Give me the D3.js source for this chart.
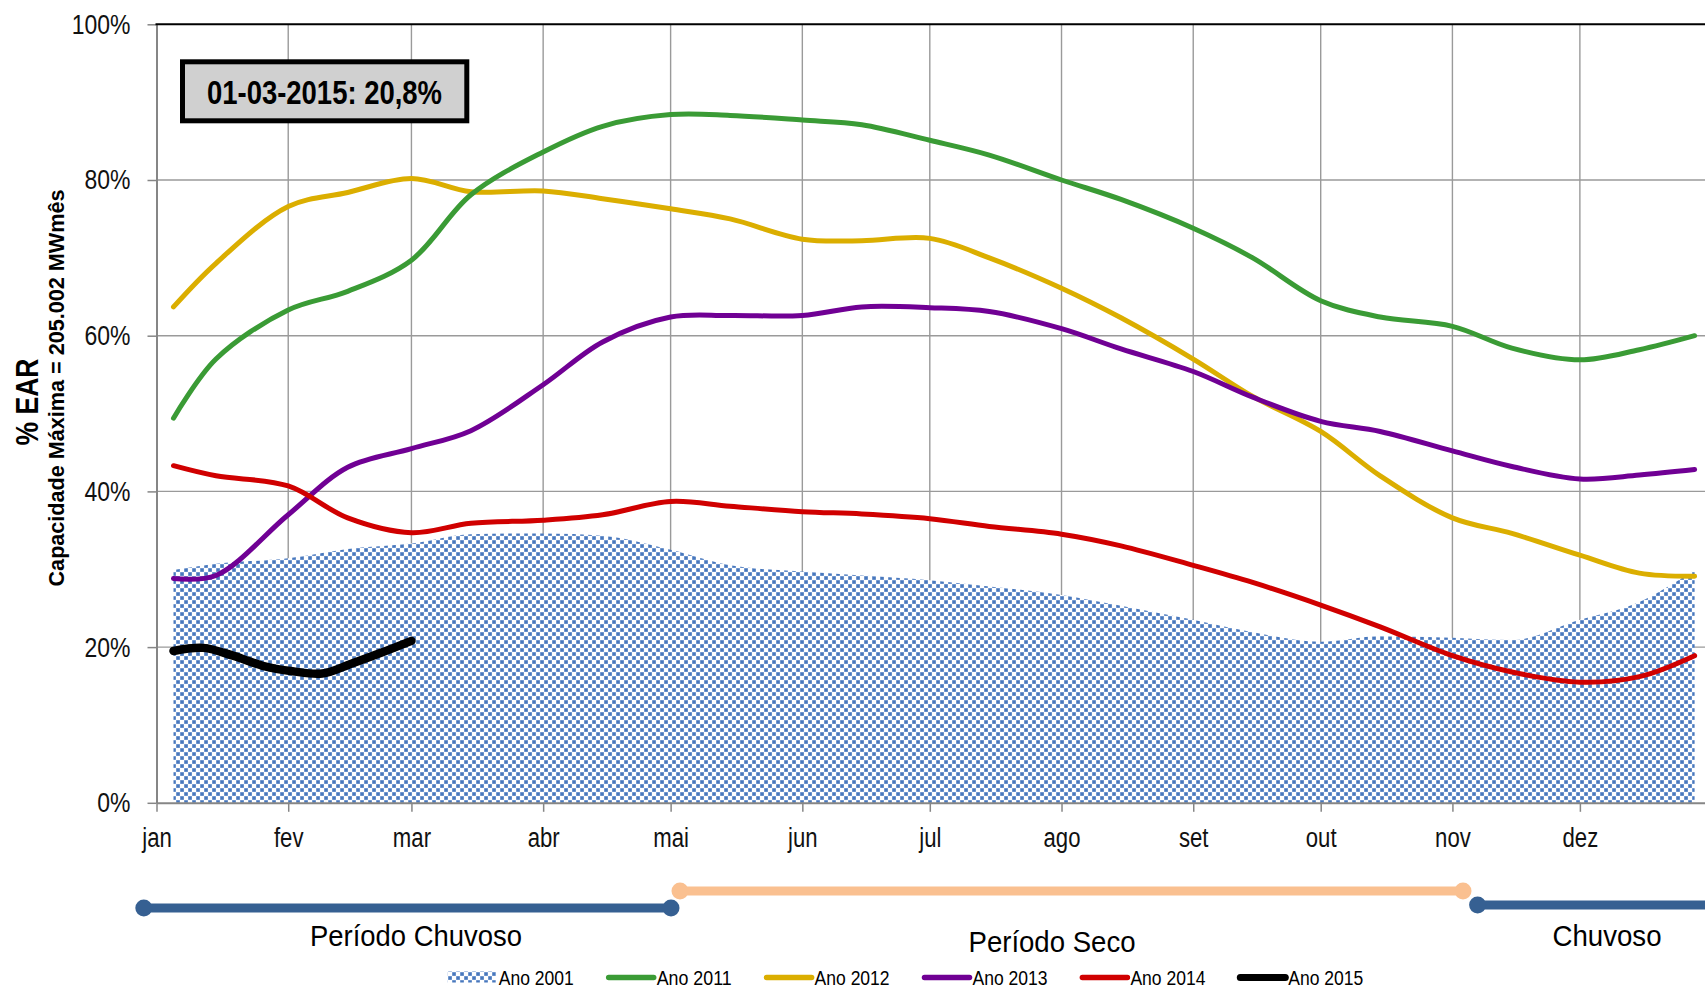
<!DOCTYPE html>
<html><head><meta charset="utf-8">
<script src="https://cdn.jsdelivr.net/npm/d3@7"></script>
<style>body{margin:0;background:#fff;overflow:hidden} svg{display:block}</style>
</head><body>
<svg id="c" width="1705" height="988"></svg>
<script>
// ---------- DATA ----------
const months = ["jan","fev","mar","abr","mai","jun","jul","ago","set","out","nov","dez"];
const yTicks = [0, 20, 40, 60, 80, 100];
const dates = ["2012-01-05","2012-01-15","2012-02-01","2012-02-15","2012-03-01","2012-03-15",
  "2012-04-01","2012-04-15","2012-05-01","2012-05-15","2012-06-01","2012-06-15","2012-07-01",
  "2012-07-15","2012-08-01","2012-08-15","2012-09-01","2012-09-15","2012-10-01","2012-10-15",
  "2012-11-01","2012-11-15","2012-12-01","2012-12-15","2012-12-28"];
const ano2001 = [29.9,30.7,31.4,32.6,33.3,34.5,34.6,34.3,32.5,30.5,29.7,29.2,28.6,27.8,26.7,25.3,23.5,21.9,20.7,21.4,21.2,20.9,23.5,25.8,29.9];
const ano2011 = [49.4,57.0,63.3,65.7,69.7,78.1,83.6,86.9,88.4,88.3,87.7,87.1,85.1,83.2,80.0,77.5,73.8,70.0,64.5,62.4,61.2,58.4,56.9,58.2,60.0];
const ano2012 = [63.7,69.3,76.6,78.4,80.2,78.5,78.6,77.6,76.3,75.0,72.4,72.2,72.5,70.0,66.1,62.3,57.0,52.2,47.7,42.0,36.6,34.6,31.8,29.5,29.1];
const ano2013 = [28.8,29.2,37.0,43.1,45.5,47.8,53.7,59.2,62.4,62.6,62.6,63.7,63.6,63.1,60.9,58.3,55.4,52.1,49.0,47.7,45.2,43.2,41.6,42.1,42.8];
const ano2014 = [43.3,42.0,40.7,36.6,34.7,35.9,36.3,37.0,38.7,38.1,37.4,37.1,36.5,35.5,34.5,33.0,30.5,28.3,25.4,22.6,18.9,16.8,15.5,16.2,18.9];
const dates2015 = ["2012-01-05","2012-01-12","2012-01-19","2012-01-26","2012-02-02","2012-02-09","2012-02-16","2012-02-23","2012-03-01"];
const ano2015 = [19.5,19.9,18.9,17.6,16.9,16.6,17.9,19.3,20.8];
const legendLabels = ["Ano 2001","Ano 2011","Ano 2012","Ano 2013","Ano 2014","Ano 2015"];
const annotation = "01-03-2015: 20,8%";

// ---------- SETUP ----------
const FONT = "'Liberation Sans Narrow','Arial Narrow','Liberation Sans',Arial,sans-serif";
const svg = d3.select("#c");
const parse = d3.timeParse("%Y-%m-%d");
const x = d3.scaleTime().domain([new Date(2012,0,1), new Date(2013,0,1)]).range([156.5, 1711.6]);
const y = d3.scaleLinear().domain([0,100]).range([802.8, 24.3]);
const X0 = 156.5, XR = 1705;

const colors = {a2011:"#3a9b35", a2012:"#dbae00", a2013:"#700094", a2014:"#d00000", a2015:"#000000"};

// narrow text helper: squeeze to 82% width (Arial Narrow look)
function narrow(sel){
  sel.each(function(){
    const w = this.getComputedTextLength();
    d3.select(this).attr("textLength", w*0.82).attr("lengthAdjust","spacingAndGlyphs");
  });
}

// pattern
const defs = svg.append("defs");
const pat = defs.append("pattern").attr("id","dots").attr("patternUnits","userSpaceOnUse")
  .attr("width",8).attr("height",8);
pat.append("rect").attr("width",8).attr("height",8).attr("fill","#ffffff");
[[0,0],[4,4]].forEach(([a,b])=>{
  pat.append("rect").attr("x",a).attr("y",b).attr("width",4).attr("height",4).attr("fill","#a9c0e4");
  pat.append("rect").attr("x",a+0.4).attr("y",b+0.4).attr("width",3.3).attr("height",3.3).attr("fill","#4878bd");
});

// gridlines
const grid = svg.append("g");
grid.selectAll("line.h").data(yTicks.filter(d=>d>0 && d<100)).join("line")
  .attr("x1",X0).attr("x2",XR).attr("y1",d=>y(d)).attr("y2",d=>y(d))
  .attr("stroke","#9a9a9a").attr("stroke-width",1.4);
const monthStarts = d3.timeMonth.range(new Date(2012,0,1), new Date(2013,0,1));
grid.selectAll("line.v").data(monthStarts.slice(1)).join("line")
  .attr("x1",d=>x(d)).attr("x2",d=>x(d)).attr("y1",y(100)).attr("y2",y(0))
  .attr("stroke","#9a9a9a").attr("stroke-width",1.4);

// area 2001
const pts = (ds, vs) => ds.map((d,i)=>({date:parse(d), v:vs[i]}));
const area = d3.area().x(d=>x(d.date)).y0(y(0)).y1(d=>y(d.v)).curve(d3.curveMonotoneX);
svg.append("path").datum(pts(dates, ano2001)).attr("d", area).attr("fill","url(#dots)");

// lines
const line = d3.line().x(d=>x(d.date)).y(d=>y(d.v)).curve(d3.curveCatmullRom.alpha(0.5));
const series = [
  {vals:ano2012, ds:dates, c:colors.a2012, w:5},
  {vals:ano2011, ds:dates, c:colors.a2011, w:5},
  {vals:ano2013, ds:dates, c:colors.a2013, w:5},
  {vals:ano2014, ds:dates, c:colors.a2014, w:5},
  {vals:ano2015, ds:dates2015, c:colors.a2015, w:8.5}
];
series.forEach(s=>{
  svg.append("path").datum(pts(s.ds, s.vals)).attr("d", line)
    .attr("fill","none").attr("stroke",s.c).attr("stroke-width",s.w)
    .attr("stroke-linecap","round").attr("stroke-linejoin","round");
});

// axes
const yAxis = d3.axisLeft(y).tickValues(yTicks).tickFormat(d=>d+"%").tickSize(9).tickSizeOuter(0).tickPadding(17);
const gy = svg.append("g").attr("transform",`translate(${X0},0)`).call(yAxis);
gy.select(".domain").attr("stroke","#868686").attr("stroke-width",2);
gy.selectAll(".tick line").attr("stroke","#868686").attr("stroke-width",1.5);
gy.selectAll(".tick text").attr("font-family",FONT).attr("font-size",28).attr("fill","#111").call(narrow);

const xAxis = d3.axisBottom(x).tickValues(monthStarts).tickFormat(d=>months[d.getMonth()])
  .tickSize(9).tickSizeOuter(0).tickPadding(16);
const gx = svg.append("g").attr("transform",`translate(0,${y(0)})`).call(xAxis);
gx.select(".domain").attr("stroke","#868686").attr("stroke-width",2);
gx.selectAll(".tick line").attr("stroke","#868686").attr("stroke-width",1.5);
gx.selectAll(".tick text").attr("font-family",FONT).attr("font-size",27).attr("fill","#111").call(narrow);

// top border
svg.append("line").attr("x1",X0-1).attr("x2",XR).attr("y1",y(100)).attr("y2",y(100))
  .attr("stroke","#000").attr("stroke-width",2);

// y titles
svg.append("text").attr("transform","translate(38,402) rotate(-90)")
  .attr("text-anchor","middle").attr("font-family",FONT).attr("font-weight","bold")
  .attr("font-size",32).attr("fill","#000").attr("textLength",87).attr("lengthAdjust","spacingAndGlyphs")
  .text("% EAR");
svg.append("text").attr("transform","translate(64,388) rotate(-90)")
  .attr("text-anchor","middle").attr("font-family",FONT).attr("font-weight","bold")
  .attr("font-size",22).attr("fill","#000").attr("textLength",397).attr("lengthAdjust","spacingAndGlyphs")
  .text("Capacidade Máxima = 205.002 MWmês");

// annotation box
svg.append("rect").attr("x",182.5).attr("y",61.8).attr("width",284.3).attr("height",59)
  .attr("fill","#d0d0d0").attr("stroke","#000").attr("stroke-width",5);
svg.append("text").attr("x",324.5).attr("y",92).attr("dy","0.36em").attr("text-anchor","middle")
  .attr("font-family",FONT).attr("font-weight","bold").attr("font-size",34).attr("fill","#000")
  .attr("textLength",235).attr("lengthAdjust","spacingAndGlyphs").text(annotation);

// period bars
const periods = [
  {x1:143.8, x2:671, y:908, c:"#366092", label:"Período Chuvoso", lx:416, ly:935, lw:212},
  {x1:680, x2:1463, y:891, c:"#fac090", label:"Período Seco", lx:1052, ly:941, lw:167},
  {x1:1477.6, x2:1760, y:905, c:"#366092", label:"Chuvoso", lx:1607, ly:935, lw:109}
];
periods.forEach(p=>{
  svg.append("line").attr("x1",p.x1).attr("x2",p.x2).attr("y1",p.y).attr("y2",p.y)
    .attr("stroke",p.c).attr("stroke-width",9);
  svg.append("circle").attr("cx",p.x1).attr("cy",p.y).attr("r",8.5).attr("fill",p.c);
  svg.append("circle").attr("cx",p.x2).attr("cy",p.y).attr("r",8.5).attr("fill",p.c);
  svg.append("text").attr("x",p.lx).attr("y",p.ly).attr("dy","0.36em").attr("text-anchor","middle")
    .attr("font-family",FONT).attr("font-size",30).attr("fill","#000")
    .attr("textLength",p.lw).attr("lengthAdjust","spacingAndGlyphs").text(p.label);
});

// legend
const legColors = [null, colors.a2011, colors.a2012, colors.a2013, colors.a2014, colors.a2015];
legendLabels.forEach((lab,i)=>{
  const sx = 447.8 + i*157.9, cy = 977.5;
  if (i===0) {
    svg.append("rect").attr("x",sx).attr("y",cy-6).attr("width",48).attr("height",11).attr("fill","url(#dots)");
  } else {
    svg.append("line").attr("x1",sx+3).attr("x2",sx+48).attr("y1",cy).attr("y2",cy)
      .attr("stroke",legColors[i]).attr("stroke-width",i===5?7:5.5).attr("stroke-linecap","round");
  }
  svg.append("text").attr("x",sx+51).attr("y",cy).attr("dy","0.36em")
    .attr("font-family",FONT).attr("font-size",20).attr("fill","#000")
    .attr("textLength",75).attr("lengthAdjust","spacingAndGlyphs").text(lab);
});
</script>
</body></html>
